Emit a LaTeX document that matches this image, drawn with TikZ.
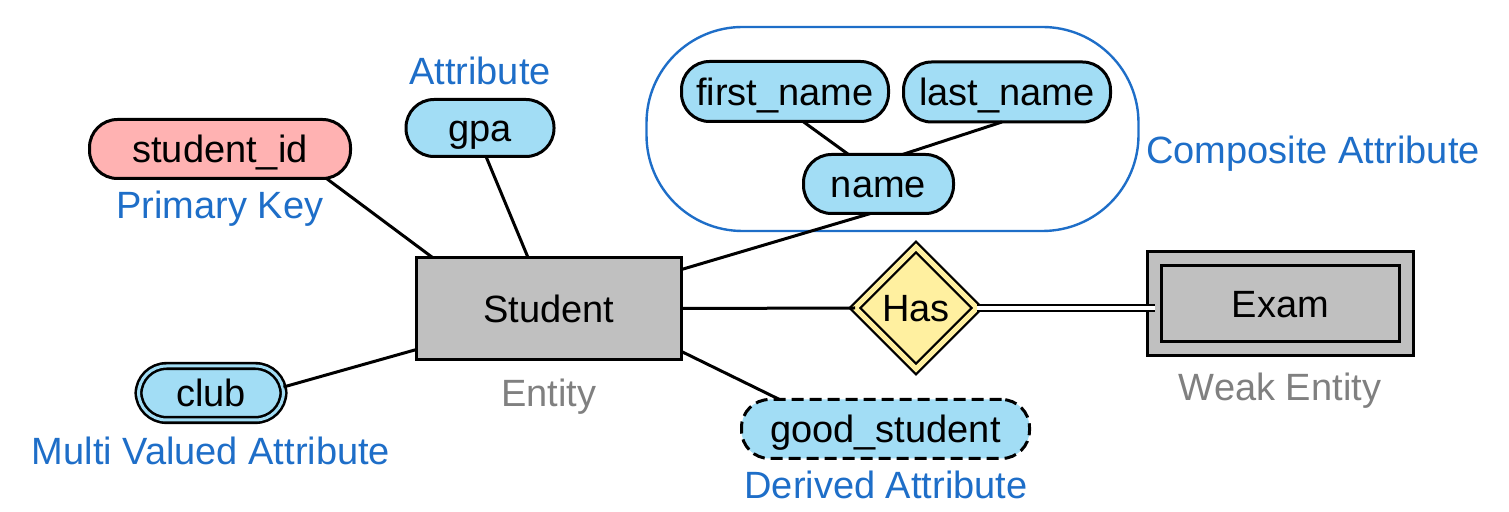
\documentclass[tikz,border=0pt]{standalone}
\usepackage{fontspec}
\setmainfont{Liberation Sans}
\usetikzlibrary{shapes.geometric,calc}
\definecolor{attrblue}{RGB}{162,221,245}
\definecolor{keypink}{RGB}{255,178,178}
\definecolor{entgray}{RGB}{192,192,192}
\definecolor{relyellow}{RGB}{255,240,160}
\definecolor{tagblue}{RGB}{30,110,200}
\definecolor{taggray}{RGB}{128,128,128}

\begin{document}
\begin{tikzpicture}[x=0.5pt,y=-0.5pt,
  every node/.style={font=\fontsize{19}{22}\selectfont,inner sep=0pt,outer sep=0pt,text height=13.7pt,text depth=0pt},
  attr/.style={draw,line width=1.5pt,fill=attrblue,rounded corners=14pt,minimum height=29.5pt},
  keyattr/.style={attr,fill=keypink},
  multiattr/.style={attr,line width=1.3pt,double=attrblue,double distance=1.5pt,minimum height=27pt},
  derivattr/.style={attr,dash pattern=on 6pt off 3pt},
  entity/.style={draw,line width=1.5pt,fill=entgray},
  weakentity/.style={entity,double=entgray,double distance=5.5pt},
  rel/.style={diamond,aspect=1,draw,line width=1.2pt,fill=relyellow,double=relyellow,double distance=2.5pt,minimum size=61pt},
  tag/.style={text=tagblue},
  graytag/.style={text=taggray},
  link/.style={line width=1.5pt}]
\useasboundingbox (0,0) rectangle (1509,512);

% composite group
\node[draw=tagblue,line width=1.2pt,rounded corners=48pt,minimum width=246pt,minimum height=102pt] (comp) at (892.5,129) {};

% entities and relationship
\node[entity,minimum width=132.5pt,minimum height=51pt] (stu) at (549,308.5) {Student};
\node[rel] (has) at (916,308) {Has};
\node[weakentity,minimum width=126pt,minimum height=45pt] (exam) at (1280.5,303.5) {Exam};

% attributes
\node[keyattr,minimum width=130.5pt] (sid) at (220,149) {student\_id};
\node[attr,minimum width=74pt,minimum height=28.5pt] (gpa) at (480,128) {gpa};
\node[multiattr,minimum width=72.5pt] (club) at (211,393) {club};
\node[derivattr,minimum width=144pt] (good) at (885.5,429) {good\_student};
\node[attr,minimum width=103.5pt,minimum height=30pt] (fname) at (785,91.5) {first\_name};
\node[attr,minimum width=103.5pt,minimum height=30pt] (lname) at (1007,92) {last\_name};
\node[attr,minimum width=75pt] (name) at (878.5,184) {name};

% captions
\node[tag] (tkey) at (220,205) {Primary Key};
\node[tag] (tattr) at (480,71) {Attribute};
\node[tag] (tcomp) at (1313,150) {Composite Attribute};
\node[tag] (tmulti) at (211,451) {Multi Valued Attribute};
\node[tag] (tderiv) at (886,485) {Derived Attribute};
\node[graytag] (tent) at (549,393) {Entity};
\node[graytag] (tweak) at (1280,387) {Weak Entity};

% connectors
\draw[link] ([xshift=-12pt]sid.south east) -- ([xshift=8pt]stu.north west);
\draw[link] ([xshift=3pt]gpa.south) -- ([xshift=-10.5pt]stu.north);
\draw[link] ([yshift=3pt]club.east) -- ([yshift=5pt]stu.south west);
\draw[link] ([xshift=-4pt]name.south) -- ([yshift=-6pt]stu.north east);
\draw[link] ([yshift=4pt]stu.south east) -- ([xshift=19pt]good.north west);
\draw[link] ([xshift=9pt]fname.south) -- ([xshift=-15pt]name.north);
\draw[link] ([xshift=-2.5pt]lname.south) -- ([xshift=12pt]name.north);
\draw[link] (stu.east) -- (has.west);
\draw[line width=1pt,double,double distance=2pt] (has.east) -- (has.east -| exam.west);
\end{tikzpicture}
\end{document}
